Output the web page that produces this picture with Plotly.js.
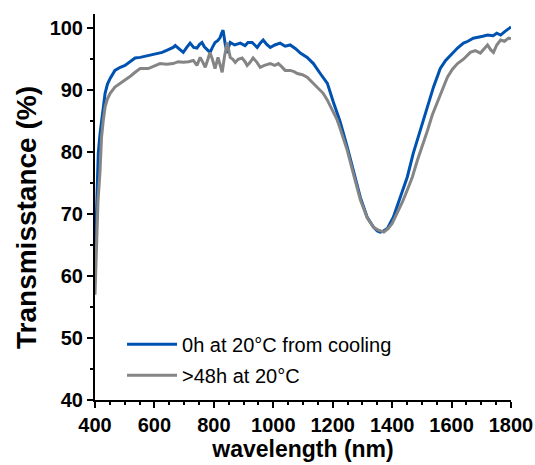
<!DOCTYPE html>
<html>
<head>
<meta charset="utf-8">
<script src="https://cdn.plot.ly/plotly-3.0.1.min.js"></script>
<style>html,body{margin:0;padding:0;background:#fff;}#chart{width:535px;height:465px;}</style>
</head>
<body>
<div id="chart"></div>
<script>
// Series: 0h at 20°C from cooling
const wl0h = [400,406,411,417,422,428,434,442,451,467,485,501,520,535,552,579,600,626,645,663,670,683,697,710,720,732,743,752,760,768,777,787,796,804,813,821,826,831,838,845,850,855,870,889,905,915,929,946,956,966,978,990,1005,1023,1040,1057,1075,1091,1114,1135,1158,1182,1202,1225,1249,1269,1293,1316,1337,1350,1360,1372,1384,1404,1428,1451,1471,1495,1519,1539,1562,1580,1596,1620,1640,1655,1673,1690,1705,1721,1740,1752,1765,1780,1792,1800];
const t0h = [62,74.4,79.8,83,85.2,87.8,89.5,91,91.9,93.2,93.7,94.0,94.6,95.2,95.3,95.6,95.9,96.1,96.5,96.9,97.2,96.7,96.1,97.0,97.6,96.9,96.8,97.4,97.7,97.0,96.5,96.1,97.0,97.7,98.0,98.5,99.2,99.7,97.5,96.0,97.0,97.7,97.3,97.6,97.2,97.7,97.7,96.9,97.6,98.1,97.4,96.9,97.3,97.6,97.1,97.3,96.7,96.0,95.3,94.3,92.7,91.1,88.1,84.9,80.8,77.1,72.7,69.5,67.9,67.3,67.1,67.3,67.7,69.5,72.7,76,79.8,83.5,87.3,90.5,93.5,94.8,95.6,96.8,97.6,97.9,98.4,98.5,98.7,98.9,98.8,99.2,98.9,99.5,100,100.2];
// Series: >48h at 20°C
const wl48h = [400,405,410,417,422,428,434,442,451,467,485,501,520,535,552,579,600,619,640,663,680,697,715,731,743,754,763,771,780,787,795,804,814,822,828,836,845,850,855,864,872,882,895,905,912,922,932,945,956,970,990,1005,1017,1028,1040,1057,1070,1081,1098,1114,1135,1158,1168,1182,1202,1215,1225,1249,1269,1293,1316,1337,1350,1360,1372,1387,1400,1417,1435,1451,1468,1485,1502,1519,1535,1552,1570,1586,1603,1620,1640,1663,1680,1697,1710,1721,1732,1741,1752,1765,1778,1792,1800];
const t48h = [57,65,72,77,82.4,85.2,87.3,88.6,89.5,90.5,91.1,91.6,92.3,92.9,93.5,93.5,93.9,94.3,94.2,94.3,94.6,94.5,94.6,94.8,94.0,95.3,94.5,93.7,95.0,96.1,95.0,93.5,95.3,94.0,92.9,95.5,97.7,96.5,95.3,95.0,94.5,95.0,95.2,94.6,94.0,94.5,95.2,94.5,93.7,94.0,94.3,94.0,94.3,93.8,93.2,93.2,93.0,92.7,92.5,92.1,91.1,90.0,89.5,88.4,86.3,85.2,83.8,80.3,76.6,72.3,69.4,67.9,67.5,67.3,67.1,67.7,68.5,70.2,72,73.9,76,78.7,81,83.5,86,87.9,90.2,92.1,93.4,94.3,95.0,96.1,96.4,96.0,96.8,97.3,96.5,96.1,97.3,98.1,97.9,98.4,98.3];
const names = ['0h at 20°C from cooling', '>48h at 20°C'];
const xTicks = [400,600,800,1000,1200,1400,1600,1800];
const yTicks = [40,50,60,70,80,90,100];
const yTitle = 'Transmisstance (%)';
const xTitle = 'wavelength (nm)';

const F = 'Arial, "Liberation Sans", sans-serif';
const traces = [
  {x: wl0h, y: t0h, name: names[0], type: 'scatter', mode: 'lines', legendgroup: 'a',
   line: {color: '#0052b0', width: 3}},
  {x: wl48h, y: t48h, name: names[1], type: 'scatter', mode: 'lines', legendgroup: 'b',
   line: {color: '#858585', width: 3}}
];
const axisCommon = {
  showline: true, linecolor: '#000', linewidth: 2, showgrid: false, zeroline: false,
  ticks: 'outside', ticklen: 6, tickwidth: 2, tickcolor: '#000',
  tickfont: {family: F, size: 20, color: '#000', weight: 'bold'}, automargin: false
};
const layout = {
  width: 535, height: 465,
  margin: {l: 95, r: 24, t: 14, b: 65},
  paper_bgcolor: '#fff', plot_bgcolor: '#fff',
  showlegend: true,
  legend: {x: 0.065, y: 0.195, xanchor: 'left', yanchor: 'top', bgcolor: 'rgba(0,0,0,0)',
    font: {family: F, size: 20, color: '#000'}, tracegroupgap: 2, itemwidth: 50},
  xaxis: Object.assign({}, axisCommon, {
    range: [400, 1800], tickvals: xTicks, ticktext: xTicks.map(String),
    minor: {dtick: 50, ticks: 'outside', ticklen: 3, tickwidth: 2, tickcolor: '#000'},
    title: {text: xTitle, font: {family: F, size: 23, color: '#000', weight: 'bold'}, standoff: 6}
  }),
  yaxis: Object.assign({}, axisCommon, {
    range: [40, 102.3], tickvals: yTicks, ticktext: yTicks.map(String),
    minor: {dtick: 5, ticks: 'outside', ticklen: 3, tickwidth: 2, tickcolor: '#000'}
  }),
  annotations: [{
    text: yTitle, textangle: -90, xref: 'paper', yref: 'paper',
    x: -0.166, y: 0.474, xanchor: 'center', yanchor: 'middle', showarrow: false,
    font: {family: F, size: 28, color: '#000', weight: 'bold'}
  }]
};
Plotly.newPlot('chart', traces, layout, {displayModeBar: false, staticPlot: true});
</script>
</body>
</html>
